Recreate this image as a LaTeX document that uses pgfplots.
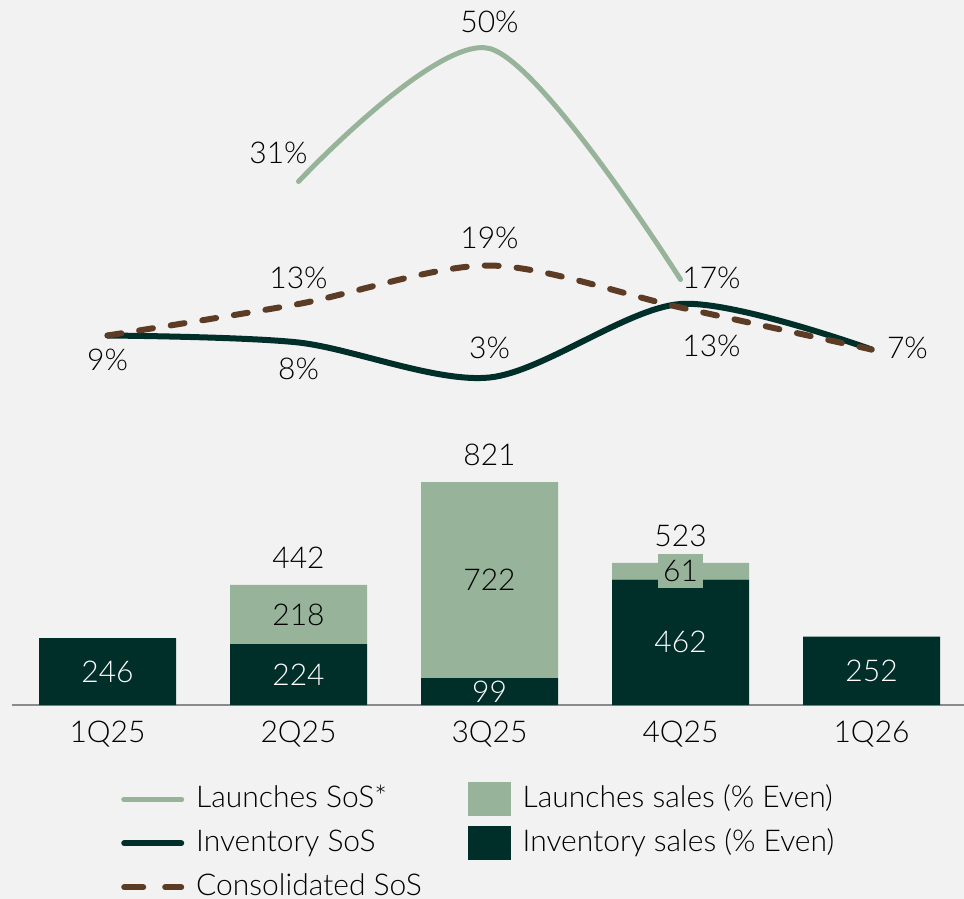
\documentclass[border=0pt]{standalone}
\usepackage{fontspec}
\IfFontExistsTF{Lato Light}{\setmainfont{Lato Light}}{%
 \IfFontExistsTF{Fira Sans Light}{\setmainfont{Fira Sans Light}}{%
  \IfFontExistsTF{Open Sans Light}{\setmainfont{Open Sans Light}}{\setmainfont{Lato}}}}
\usepackage{pgfplots}
\pgfplotsset{compat=1.18}
\usepackage{pgfplotstable}
\definecolor{lgreen}{HTML}{97B49B}
\definecolor{dgreen}{HTML}{002E29}
\definecolor{cbrown}{HTML}{5C3C24}
\definecolor{bgc}{HTML}{F2F2F2}
\definecolor{axgray}{HTML}{8A8A8A}

\pgfplotstableread{
x inv lau tot
0 246 0 246
1 224 218 442
2 99 722 821
3 462 61 523
4 252 0 252
}\bars
\pgfplotstableread{
x lau inv
1 218 224
2 722 99
3 61 462
}\launchlab
\pgfplotstableread{
x tot
1 442
2 821
3 523
}\totlab
\pgfplotstableread{
x y
1 31
2 50
3 17
}\launchsos
\pgfplotstableread{
x y
0 9
1 8
2 3
3 13.5
4 7
}\invsos
\pgfplotstableread{
x y
0 9
1 13.5
2 19
3 13
4 7
}\consos

\begin{document}
\fontsize{15}{18}\selectfont
\begin{tikzpicture}
\fill[bgc] (0,0) rectangle (482pt,-449.5pt);
% ---------- lines ----------
\begin{axis}[at={(6pt,-199.25pt)}, anchor=south west, scale only axis,
  width=476pt, height=192.5pt, xmin=-0.5, xmax=4.484, ymin=0, ymax=55,
  axis lines=none, clip=false]
\addplot[lgreen, line width=2.5pt, smooth, line cap=round] table[x=x,y=y] {\launchsos};
\addplot[dgreen, line width=3pt, smooth, line cap=round] table[x=x,y=y] {\invsos};
\addplot[cbrown, line width=3pt, smooth, line cap=round, dash pattern=on 7pt off 9pt] table[x=x,y=y] {\consos};
\node at (axis cs:0.895,35.07) {31\%};
\node at (axis cs:2,53.79) {50\%};
\node at (axis cs:3.162,17.21) {17\%};
\node at (axis cs:1,17.21) {13\%};
\node at (axis cs:2,22.93) {19\%};
\node at (axis cs:3.162,7.5) {13\%};
\node at (axis cs:4.188,7.21) {7\%};
\node at (axis cs:0,5.5) {9\%};
\node at (axis cs:1,4.21) {8\%};
\node at (axis cs:2,7.21) {3\%};
\end{axis}
% ---------- bars ----------
\begin{axis}[at={(6pt,-352.5pt)}, anchor=south west, scale only axis,
  width=476pt, height=122.2pt, xmin=-0.5, xmax=4.484, ymin=0, ymax=900,
  ybar stacked, bar width=68.5pt,
  axis x line*=bottom, axis y line=none,
  x axis line style={-, axgray, line width=1pt},
  xtick={0,1,2,3,4}, xticklabels={1Q25,2Q25,3Q25,4Q25,1Q26},
  major tick length=0pt,
  xticklabel style={anchor=base, yshift=-18.8pt},
  clip=false,
  legend columns=2,
  legend cell align=left,
  legend style={at={(axis description cs:0.108,-0.278)}, anchor=north west,
    draw=none, fill=none, row sep=0pt,
    nodes={text height=11pt, text depth=3pt, inner ysep=4pt, inner xsep=6pt},
    /tikz/every even column/.append style={column sep=17pt}}
]
\addplot[fill=dgreen, draw=none, forget plot] table[x=x,y=inv] {\bars};
\addplot[fill=lgreen, draw=none, forget plot] table[x=x,y=lau] {\bars};
\addlegendimage{legend image code/.code={\draw[lgreen,line width=2.5pt,line cap=round] (1.25pt,0pt)--(30.25pt,0pt);}}
\addlegendentry{Launches SoS*}
\addlegendimage{legend image code/.code={\fill[lgreen] (0pt,-8.25pt) rectangle (21pt,8.25pt);}}
\addlegendentry{Launches sales (\% Even)}
\addlegendimage{legend image code/.code={\draw[dgreen,line width=3pt,line cap=round] (1.5pt,0pt)--(30pt,0pt);}}
\addlegendentry{Inventory SoS}
\addlegendimage{legend image code/.code={\fill[dgreen] (0pt,-8.25pt) rectangle (21pt,8.25pt);}}
\addlegendentry{Inventory sales (\% Even)}
\addlegendimage{legend image code/.code={\draw[cbrown,line width=3pt,line cap=round] (1.5pt,0pt)--(11pt,0pt) (22pt,0pt)--(30pt,0pt);}}
\addlegendentry{Consolidated SoS}
\end{axis}
% ---------- bar value labels ----------
\begin{axis}[at={(6pt,-352.5pt)}, anchor=south west, scale only axis,
  width=476pt, height=122.2pt, xmin=-0.5, xmax=4.484, ymin=0, ymax=900,
  axis lines=none, clip=false]
\addplot[draw=none, mark=none,
  nodes near coords, point meta=explicit symbolic,
  nodes near coords style={anchor=center, text=white}]
  table[x=x, y expr=\thisrow{inv}/2, meta=inv] {\bars};
\addplot[draw=none, mark=none,
  nodes near coords, point meta=explicit symbolic,
  nodes near coords style={anchor=center, text=black, fill=lgreen, inner xsep=2.5pt, inner ysep=3pt}]
  table[x=x, y expr=\thisrow{inv}+\thisrow{lau}/2, meta=lau] {\launchlab};
\addplot[draw=none, mark=none,
  nodes near coords, point meta=explicit symbolic,
  nodes near coords style={anchor=center, text=black}]
  table[x=x, y expr=\thisrow{tot}+99, meta=tot] {\totlab};
\end{axis}
\pgfresetboundingbox
\useasboundingbox (0,0) rectangle (482pt,-449.5pt);
\end{tikzpicture}
\end{document}
